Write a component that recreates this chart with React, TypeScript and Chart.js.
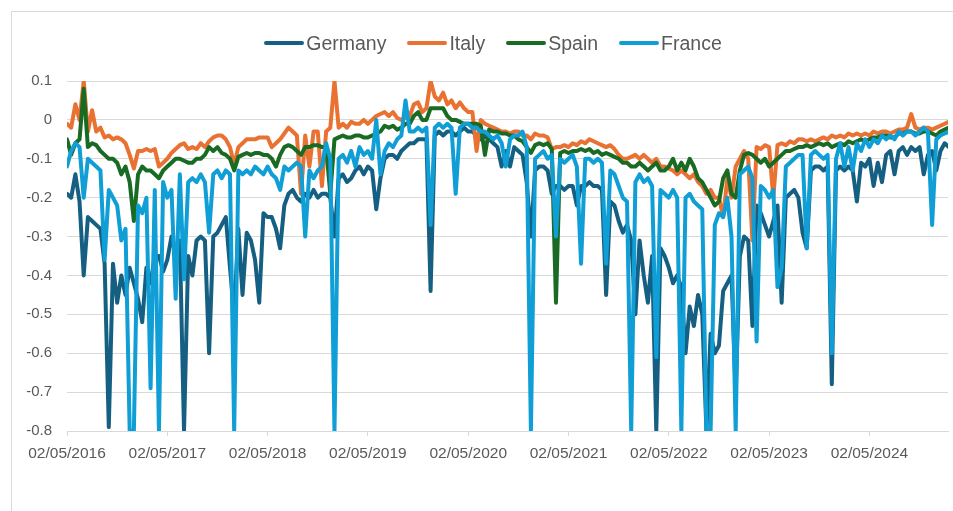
import React, { useEffect, useRef } from "react";
import { Chart, registerables } from "chart.js";

Chart.register(...registerables);

// x positions: half-month steps since 02/05/2016
const STEP_MONTHS = 0.5;
const X_MAX_MONTHS = 105.4;
const tickMonths = [0, 12, 24, 36, 48, 60, 72, 84, 96];
const tickLabels = [
  "02/05/2016", "02/05/2017", "02/05/2018", "02/05/2019", "02/05/2020",
  "02/05/2021", "02/05/2022", "02/05/2023", "02/05/2024",
];

const seriesNames = ["Germany", "Italy", "Spain", "France"];
const seriesColors = ["#156082", "#E97132", "#196B24", "#0F9ED5"];

const germany = [
  -0.19, -0.2, -0.14, -0.21, -0.4, -0.25, -0.26, -0.27, -0.28, -0.37, -0.79, -0.37, -0.47, -0.4, -0.45, -0.38, -0.42, -0.46, -0.52, -0.38, -0.42, -0.35, -0.35, -0.39,
  -0.36, -0.3, -0.35, -0.31, -0.8, -0.35, -0.4, -0.31, -0.3, -0.31, -0.6, -0.3, -0.29, -0.27, -0.25, -0.38, -0.5, -0.28, -0.45, -0.29, -0.31, -0.36, -0.47, -0.24,
  -0.25, -0.25, -0.28, -0.33, -0.22, -0.19, -0.18, -0.2, -0.21, -0.19, -0.2, -0.18, -0.2, -0.19, -0.19, -0.2, -0.3, -0.15, -0.14, -0.16, -0.15, -0.13, -0.12, -0.14,
  -0.12, -0.13, -0.23, -0.15, -0.1, -0.09, -0.09, -0.1, -0.08, -0.07, -0.06, -0.06, -0.05, -0.05, -0.05, -0.44, -0.04, -0.03, -0.04, -0.03, -0.03, -0.04, -0.03, -0.02,
  -0.03, -0.03, -0.04, -0.05, -0.04, -0.05, -0.06, -0.07, -0.12, -0.08, -0.12, -0.07, -0.08, -0.09, -0.16, -0.3, -0.13, -0.12, -0.12, -0.13, -0.19, -0.17, -0.17, -0.18,
  -0.17, -0.17, -0.22, -0.17, -0.17, -0.16, -0.17, -0.17, -0.18, -0.45, -0.21, -0.22, -0.26, -0.29, -0.27, -0.31, -0.5, -0.31, -0.4, -0.47, -0.35, -0.8, -0.33, -0.35,
  -0.38, -0.42, -0.4, -0.43, -0.6, -0.48, -0.53, -0.45, -0.5, -0.8, -0.55, -0.6, -0.58, -0.44, -0.42, -0.4, -0.7, -0.35, -0.3, -0.31, -0.53, -0.22, -0.24, -0.27,
  -0.3, -0.26, -0.22, -0.47, -0.2, -0.19, -0.18, -0.2, -0.29, -0.33, -0.13, -0.12, -0.12, -0.13, -0.12, -0.68, -0.13, -0.12, -0.13, -0.12, -0.13, -0.21, -0.11, -0.12,
  -0.1, -0.17, -0.11, -0.16, -0.09, -0.08, -0.14, -0.08, -0.07, -0.09, -0.07, -0.08, -0.07, -0.14, -0.09, -0.08, -0.13, -0.08, -0.06, -0.07,
];

const italy = [
  -0.01, -0.02, 0.04, 0.0, 0.1, -0.03, 0.025, -0.03, -0.02, -0.045, -0.04, -0.05, -0.045, -0.05, -0.06, -0.09, -0.125, -0.08, -0.08, -0.075, -0.08, -0.075, -0.12, -0.11,
  -0.1, -0.085, -0.075, -0.065, -0.06, -0.075, -0.07, -0.075, -0.06, -0.07, -0.055, -0.045, -0.04, -0.04, -0.05, -0.07, -0.115, -0.07, -0.06, -0.05, -0.05, -0.05, -0.045, -0.045,
  -0.045, -0.07, -0.06, -0.05, -0.035, -0.02, -0.03, -0.04, -0.19, -0.04, -0.12, -0.03, -0.03, -0.17, -0.03, -0.02, 0.1, -0.02, -0.01, -0.02, -0.005, -0.01, -0.01, 0.0,
  -0.01, 0.0, 0.01, 0.015, 0.02, 0.01, 0.02, 0.005, 0.0, 0.005, 0.01, 0.04, 0.045, 0.02, 0.03, 0.1, 0.06, 0.05, 0.07, 0.04, 0.05, 0.03, 0.045, 0.03,
  0.02, 0.02, -0.08, 0.0, -0.01, -0.015, -0.02, -0.025, -0.03, -0.03, -0.035, -0.03, -0.03, -0.04, -0.04, -0.05, -0.035, -0.04, -0.04, -0.045, -0.075, -0.07, -0.07, -0.065,
  -0.07, -0.06, -0.065, -0.055, -0.06, -0.05, -0.055, -0.06, -0.065, -0.07, -0.065, -0.075, -0.09, -0.1, -0.1, -0.095, -0.09, -0.1, -0.09, -0.1, -0.11, -0.1, -0.12, -0.12,
  -0.125, -0.13, -0.14, -0.13, -0.14, -0.15, -0.14, -0.16, -0.17, -0.19, -0.18, -0.2, -0.2, -0.25, -0.15, -0.2, -0.12, -0.1, -0.08, -0.1, -0.31, -0.07, -0.075, -0.065,
  -0.07, -0.2, -0.065, -0.06, -0.065, -0.055, -0.06, -0.05, -0.05, -0.055, -0.05, -0.055, -0.05, -0.045, -0.05, -0.04, -0.045, -0.04, -0.045, -0.035, -0.04, -0.035, -0.04, -0.035,
  -0.04, -0.03, -0.035, -0.03, -0.03, -0.035, -0.03, -0.025, -0.025, -0.02, 0.015, -0.02, -0.025, -0.02, -0.02, -0.025, -0.02, -0.015, -0.01, -0.005,
];

const spain = [
  -0.05, -0.09, -0.06, -0.05, 0.08, -0.07, -0.06, -0.065, -0.08, -0.09, -0.1, -0.1, -0.11, -0.14, -0.12, -0.16, -0.26, -0.14, -0.12, -0.13, -0.13, -0.14, -0.15, -0.13,
  -0.12, -0.11, -0.1, -0.1, -0.105, -0.11, -0.11, -0.1, -0.1, -0.09, -0.07, -0.08, -0.07, -0.085, -0.09, -0.1, -0.13, -0.095, -0.09, -0.085, -0.09, -0.085, -0.085, -0.09,
  -0.09, -0.1, -0.12, -0.09, -0.07, -0.065, -0.07, -0.08, -0.09, -0.07, -0.07, -0.065, -0.065, -0.07, -0.07, -0.19, -0.05, -0.045, -0.04, -0.045, -0.045, -0.04, -0.04, -0.045,
  -0.045, -0.04, -0.035, -0.03, -0.015, -0.02, -0.015, -0.025, -0.02, -0.01, -0.01, 0.01, 0.02, 0.0, 0.0, 0.03, 0.03, 0.03, 0.03, 0.01, 0.0, 0.0, -0.005, -0.01,
  -0.01, -0.01, -0.01, -0.015, -0.09, -0.025, -0.03, -0.03, -0.035, -0.035, -0.04, -0.04, -0.05, -0.055, -0.07, -0.085, -0.065, -0.06, -0.065, -0.06, -0.075, -0.47, -0.085, -0.08,
  -0.085, -0.08, -0.08, -0.075, -0.08, -0.075, -0.085, -0.08, -0.09, -0.085, -0.09, -0.095, -0.1, -0.11, -0.11, -0.12, -0.12, -0.11, -0.12, -0.13, -0.12, -0.11, -0.13, -0.13,
  -0.12, -0.1, -0.13, -0.11, -0.13, -0.1, -0.12, -0.15, -0.16, -0.18, -0.2, -0.22, -0.21, -0.15, -0.13, -0.19, -0.2, -0.13, -0.09, -0.085, -0.09, -0.1, -0.11, -0.1,
  -0.12, -0.11, -0.1, -0.09, -0.08, -0.08, -0.075, -0.07, -0.07, -0.065, -0.07, -0.065, -0.06, -0.065, -0.06, -0.07, -0.065, -0.06, -0.065, -0.055, -0.06, -0.055, -0.05, -0.055,
  -0.05, -0.045, -0.045, -0.04, -0.04, -0.045, -0.045, -0.035, -0.035, -0.03, -0.03, -0.035, -0.035, -0.03, -0.03, -0.035, -0.04, -0.03, -0.025, -0.02,
];

const france = [
  -0.12, -0.08, -0.06, -0.07, -0.2, -0.1, -0.11, -0.12, -0.13, -0.36, -0.18, -0.2, -0.22, -0.31, -0.28, -0.8, -0.8, -0.22, -0.24, -0.2, -0.69, -0.18, -0.8, -0.16,
  -0.2, -0.18, -0.46, -0.14, -0.41, -0.16, -0.15, -0.16, -0.14, -0.16, -0.29, -0.14, -0.13, -0.15, -0.13, -0.14, -0.8, -0.13, -0.14, -0.13, -0.14, -0.12, -0.13, -0.14,
  -0.12, -0.14, -0.15, -0.18, -0.12, -0.13, -0.12, -0.11, -0.12, -0.3, -0.13, -0.15, -0.13, -0.12, -0.06, -0.1, -0.8, -0.1, -0.09, -0.11, -0.08, -0.12, -0.07, -0.09,
  -0.08, -0.1, 0.0, -0.14, -0.08, -0.06, -0.07, -0.05, -0.04, 0.05, -0.03, -0.03, -0.02, -0.03, -0.02, -0.27, -0.02, -0.01, -0.02, -0.01, -0.02, -0.19, -0.02, -0.01,
  -0.01, -0.02, -0.02, -0.03, -0.03, -0.04, -0.05, -0.04, -0.06, -0.12, -0.05, -0.04, -0.04, -0.03, -0.07, -0.8, -0.1, -0.09, -0.08, -0.1, -0.09, -0.3, -0.1, -0.11,
  -0.1, -0.09, -0.12, -0.37, -0.1, -0.1, -0.11, -0.1, -0.11, -0.37, -0.13, -0.14, -0.17, -0.2, -0.21, -0.8, -0.16, -0.14, -0.16, -0.15, -0.17, -0.61, -0.18, -0.19,
  -0.2, -0.18, -0.2, -0.8, -0.2, -0.19, -0.21, -0.22, -0.23, -0.8, -0.8, -0.27, -0.24, -0.25, -0.2, -0.3, -0.8, -0.14, -0.13, -0.12, -0.15, -0.57, -0.17, -0.18,
  -0.2, -0.18, -0.43, -0.38, -0.12, -0.11, -0.1, -0.09, -0.09, -0.33, -0.09, -0.08, -0.09, -0.1, -0.09, -0.6, -0.1, -0.06, -0.12, -0.07, -0.13, -0.06, -0.08, -0.05,
  -0.07, -0.05, -0.06, -0.04, -0.05, -0.04, -0.05, -0.03, -0.04, -0.03, -0.03, -0.04, -0.03, -0.02, -0.03, -0.27, -0.05, -0.04, -0.035, -0.03,
];

const FONT = "'Liberation Sans', Arial, sans-serif";
const TEXT = "#595959";
const GRID = "#D9D9D9";

export default function App() {
  const canvasRef = useRef<HTMLCanvasElement>(null);

  useEffect(() => {
    const all = [germany, italy, spain, france];
    const chart = new Chart(canvasRef.current as HTMLCanvasElement, {
      type: "line",
      data: {
        datasets: all.map((vals, k) => ({
          label: seriesNames[k],
          data: vals.map((v, i) => ({ x: i * STEP_MONTHS, y: v })),
          borderColor: seriesColors[k],
          backgroundColor: seriesColors[k],
          borderWidth: 4,
          pointRadius: 0,
          pointHoverRadius: 0,
          tension: 0,
          borderJoinStyle: "round",
          borderCapStyle: "round",
          clip: 0,
          order: 3 - k,
        })),
      },
      options: {
        responsive: false,
        animation: false,
        events: [],
        layout: { padding: { left: 0, right: 5, top: 81, bottom: 0 } },
        plugins: { legend: { display: false }, tooltip: { enabled: false } },
        scales: {
          x: {
            type: "linear",
            min: 0,
            max: X_MAX_MONTHS,
            afterBuildTicks: (s: any) => {
              s.ticks = tickMonths.map((v) => ({ value: v }));
            },
            afterFit: (s: any) => {
              s.height = 80;
            },
            grid: { drawOnChartArea: false, drawTicks: true, tickLength: 5, color: GRID, lineWidth: 1 },
            border: { display: true, color: GRID, width: 1 },
            ticks: {
              autoSkip: false,
              maxRotation: 0,
              minRotation: 0,
              padding: 8,
              color: TEXT,
              font: { family: FONT, size: 15.5 },
              callback: (v: any) => {
                const idx = tickMonths.indexOf(Number(v));
                return idx >= 0 ? tickLabels[idx] : "";
              },
            },
          },
          y: {
            type: "linear",
            min: -0.8,
            max: 0.1,
            afterFit: (s: any) => {
              s.width = 67;
            },
            grid: { color: GRID, lineWidth: 1, drawTicks: false },
            border: { display: false },
            ticks: {
              stepSize: 0.1,
              padding: 15,
              color: TEXT,
              font: { family: FONT, size: 15 },
              callback: (v: any) => String(Math.round(Number(v) * 10) / 10),
            },
          },
        },
      },
    } as any);
    return () => chart.destroy();
  }, []);

  return (
    <div
      style={{
        position: "fixed",
        left: 0,
        top: 0,
        width: 953,
        height: 511,
        overflow: "hidden",
        background: "#ffffff",
      }}
    >
      <div
        style={{
          position: "absolute",
          left: 11,
          top: 11,
          width: 1200,
          height: 800,
          border: `1px solid ${GRID}`,
          boxSizing: "border-box",
        }}
      />
      <canvas
        ref={canvasRef}
        width={953}
        height={511}
        style={{ position: "absolute", left: 0, top: 0, width: 953, height: 511 }}
      />
      <div
        style={{
          position: "absolute",
          left: 0,
          top: 31,
          width: 986,
          height: 24,
          display: "flex",
          justifyContent: "center",
          alignItems: "center",
          gap: 21,
          fontFamily: FONT,
          fontSize: 19.5,
          color: TEXT,
        }}
      >
        {seriesNames.map((name, k) => (
          <div key={name} style={{ display: "flex", alignItems: "center", gap: 2 }}>
            <span
              style={{
                display: "inline-block",
                width: 40,
                height: 4,
                borderRadius: 2,
                background: seriesColors[k],
              }}
            />
            <span>{name}</span>
          </div>
        ))}
      </div>
    </div>
  );
}
